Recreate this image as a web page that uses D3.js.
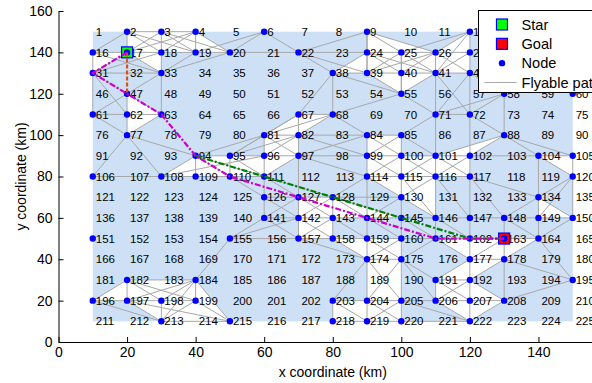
<!DOCTYPE html>
<html>
<head>
<meta charset="utf-8">
<script src="https://cdn.jsdelivr.net/npm/d3@7/dist/d3.min.js"></script>
<style>
  body { margin: 0; background: #fff; }
  svg { display: block; font-family: "Liberation Sans", Arial, sans-serif; }
</style>
</head>
<body>
<svg id="chart" width="592" height="383"></svg>
<script>
// grid of candidate nodes, numbered row by row from the top-left corner
const gridX = [10, 20, 30, 40, 50, 60, 70, 80, 90, 100, 110, 120, 130, 140, 150];
const gridY = [150, 140, 130, 120, 110, 100, 90, 80, 70, 60, 50, 40, 30, 20, 10];
const xTicks = [0, 20, 40, 60, 80, 100, 120, 140, 160];
const yTicks = [0, 20, 40, 60, 80, 100, 120, 140, 160];

// nodes that are drawn as blue dots
const nodeIds = [2, 3, 4, 6, 9, 12,
  16, 17, 18, 19, 20, 22, 24, 25, 26, 27,
  31, 33, 38, 39, 40, 41, 42,
  47, 55, 58, 60,
  61, 62, 63, 67, 68, 71, 72,
  77, 81, 82, 84, 85, 88,
  94, 95, 96, 97, 99, 100, 101, 102, 104, 105,
  106, 108, 109, 110, 111, 114, 115, 116, 117, 120,
  126, 127, 128, 130, 134,
  141, 142, 143, 144, 145, 146, 147, 148, 149, 150,
  151, 155, 157, 158, 159, 160, 161, 162, 163, 164,
  174, 175, 177, 178,
  182, 184, 191, 192, 195,
  196, 197, 198, 199, 203, 204, 205, 206, 207, 208,
  213, 215, 218, 219, 220, 222];

const startNode = 17;
const goalNode = 163;

// flyable paths between nodes
const edges = [
  [2, 3], [3, 4], [2, 16], [2, 17], [2, 18], [2, 19], [3, 17], [3, 18], [3, 19], [3, 20],
  [4, 17], [4, 18], [4, 19], [4, 20], [16, 17], [17, 18], [18, 19], [19, 20],
  [16, 31], [17, 31], [17, 33], [18, 33], [16, 33], [31, 33], [19, 33], [20, 33], [18, 31],
  [31, 47], [31, 61], [33, 47], [33, 63], [47, 61], [47, 62], [47, 63], [61, 62], [62, 63],
  [62, 77], [61, 77], [63, 77], [31, 62], [19, 6], [20, 6], [20, 22], [6, 22],
  [22, 9], [22, 38], [22, 39], [22, 24], [9, 24], [9, 25], [9, 26], [9, 39],
  [24, 25], [25, 26], [26, 27], [24, 39], [24, 40], [24, 41], [25, 39], [25, 40], [25, 41],
  [26, 39], [26, 40], [26, 41], [26, 42], [27, 41], [27, 42], [12, 25], [12, 26], [12, 27], [12, 41],
  [38, 39], [39, 40], [40, 41], [41, 42], [24, 38], [38, 55], [39, 55], [40, 55], [41, 55], [25, 55],
  [38, 67], [38, 68], [55, 68], [55, 71], [41, 71], [42, 72], [41, 72], [42, 71], [71, 72],
  [58, 72], [58, 71], [58, 88], [42, 58], [72, 88], [71, 85], [71, 101], [72, 102],
  [67, 68], [67, 81], [67, 82], [68, 82], [68, 81], [68, 84], [95, 67], [94, 81], [95, 81], [95, 82],
  [77, 106], [77, 108], [77, 94], [106, 108], [108, 109], [109, 110], [110, 111],
  [94, 95], [94, 109], [94, 108], [95, 110], [108, 96], [94, 110], [94, 111], [95, 96], [95, 111],
  [81, 82], [81, 96], [82, 97], [82, 84], [84, 85], [84, 99], [85, 100], [96, 97], [97, 99], [99, 100],
  [96, 111], [111, 126], [126, 141], [97, 127], [127, 142], [99, 114], [114, 144], [100, 115],
  [115, 130], [130, 145], [114, 115], [126, 127], [127, 128], [128, 130], [141, 142], [142, 143],
  [143, 144], [144, 145], [128, 143], [81, 97], [82, 96], [84, 97], [97, 111], [111, 127], [111, 128],
  [97, 114], [82, 99], [84, 100], [85, 99], [99, 115], [100, 114], [114, 130], [114, 128],
  [128, 144], [128, 145], [128, 142], [127, 143], [126, 142], [127, 141], [130, 144], [110, 126],
  [85, 101], [100, 101], [100, 116], [101, 115], [115, 116], [115, 146], [130, 146], [145, 146], [116, 130],
  [88, 101], [88, 102], [88, 104], [88, 105],
  [101, 102], [102, 104], [104, 105], [101, 116], [102, 117], [104, 134], [105, 120], [104, 120],
  [116, 117], [117, 134], [117, 148], [117, 147], [116, 147], [116, 146], [101, 117], [102, 116],
  [120, 134], [120, 150], [134, 149], [134, 148], [134, 150], [146, 147], [147, 148], [148, 149],
  [149, 150], [120, 149],
  [147, 162], [146, 161], [148, 163], [146, 162], [149, 164], [150, 164], [148, 164],
  [145, 160], [145, 161], [144, 159], [144, 160], [143, 158], [143, 159], [142, 157], [142, 158],
  [141, 157], [141, 155], [142, 155], [143, 157],
  [157, 158], [158, 159], [159, 160], [160, 161], [161, 162], [162, 163], [163, 164],
  [157, 174], [158, 174], [159, 174], [160, 174], [159, 175], [160, 175], [174, 175], [161, 175],
  [161, 177], [162, 177], [163, 177], [163, 178], [164, 178], [177, 178],
  [174, 203], [174, 204], [174, 205], [175, 204], [175, 205], [175, 191], [175, 206],
  [203, 204], [204, 205], [205, 206], [206, 207], [207, 208], [203, 218], [218, 219], [219, 220],
  [204, 219], [205, 220], [203, 219], [204, 220], [205, 219], [220, 222], [205, 222], [206, 222],
  [207, 222], [208, 222], [191, 206], [192, 207], [177, 191], [177, 192], [178, 192], [178, 208],
  [191, 192], [191, 207], [192, 206], [192, 208], [178, 195], [164, 195], [195, 208],
  [155, 157], [155, 184], [182, 184], [182, 196], [182, 197], [182, 198], [182, 199],
  [196, 197], [197, 198], [198, 199], [196, 213], [197, 213], [198, 213], [199, 213],
  [184, 198], [184, 199], [184, 213], [184, 215], [199, 215], [213, 215], [184, 197], [197, 215]
];

// triangles between connected nodes that show up white
const openCells = [
  [2, 3, 17], [3, 17, 18], [3, 4, 18], [4, 18, 19], [4, 19, 20], [16, 17, 31], [17, 18, 33],
  [47, 62, 63], [62, 63, 77],
  [9, 24, 25], [9, 25, 26], [24, 25, 39], [25, 39, 40], [25, 26, 40], [26, 40, 41], [26, 27, 41],
  [27, 41, 42], [12, 26, 27], [24, 38, 39], [39, 40, 55], [40, 41, 55],
  [67, 68, 82], [67, 81, 82],
  [94, 108, 109], [94, 95, 110], [94, 109, 110], [95, 96, 111], [95, 110, 111],
  [81, 82, 96], [82, 96, 97], [96, 97, 111], [84, 85, 99], [85, 99, 100], [99, 100, 114],
  [100, 114, 115], [114, 115, 130], [127, 128, 142], [128, 142, 143], [128, 143, 144], [128, 144, 145],
  [100, 101, 115], [101, 115, 116], [101, 102, 116], [102, 116, 117], [88, 101, 102],
  [104, 105, 120], [134, 149, 150], [115, 116, 130], [116, 130, 146],
  [142, 143, 157], [143, 157, 158], [158, 159, 174], [159, 160, 174], [160, 174, 175],
  [174, 175, 204], [175, 204, 205], [203, 204, 218], [204, 218, 219], [204, 205, 219], [205, 219, 220],
  [161, 162, 177], [162, 163, 177], [163, 177, 178], [177, 178, 192], [177, 191, 192],
  [191, 192, 206], [192, 206, 207], [192, 207, 208], [206, 207, 222], [207, 208, 222], [163, 164, 178],
  [182, 196, 197], [182, 197, 198], [182, 198, 184], [184, 198, 199], [197, 198, 213],
  [198, 199, 213], [184, 199, 215], [199, 213, 215]
];

// routes found from Star to Goal
const pathOrange = [17, 47];
const pathGreen = [94, 111, 128, 145, 162, 163];
const pathMagenta = [17, 31, 63, 94, 110, 127, 144, 161, 162, 163];

const legendItems = ["Star", "Goal", "Node", "Flyable path"];

const svg = d3.select("#chart");
const x = d3.scaleLinear().domain([0, 160]).range([58.5, 607]);
const y = d3.scaleLinear().domain([0, 160]).range([342, 11]);

const pos = id => [gridX[(id - 1) % 15], gridY[Math.floor((id - 1) / 15)]];
const px = id => x(pos(id)[0]);
const py = id => y(pos(id)[1]);

// area background
svg.append("rect")
  .attr("x", x(10)).attr("y", y(150))
  .attr("width", x(150) - x(10)).attr("height", y(10) - y(150))
  .attr("fill", "#cde0f6");

svg.append("g").selectAll("polygon")
  .data(openCells)
  .join("polygon")
  .attr("points", d => d.map(id => px(id) + "," + py(id)).join(" "))
  .attr("fill", "#fff");

svg.append("g").selectAll("line")
  .data(edges)
  .join("line")
  .attr("x1", d => px(d[0])).attr("y1", d => py(d[0]))
  .attr("x2", d => px(d[1])).attr("y2", d => py(d[1]))
  .attr("stroke", "#a8a8a8")
  .attr("stroke-width", 1);

// node numbers
svg.append("g").selectAll("text")
  .data(d3.range(1, 226))
  .join("text")
  .attr("x", d => px(d) + 3)
  .attr("y", d => py(d))
  .attr("dy", "0.36em")
  .style("font-size", "11.5px")
  .style("fill", "#000")
  .text(d => d);

// axes
const xAxis = svg.append("g")
  .attr("transform", `translate(0,${y(0)})`)
  .call(d3.axisBottom(x).tickValues(xTicks).tickSizeInner(-5).tickSizeOuter(0).tickPadding(5));
const yAxis = svg.append("g")
  .attr("transform", `translate(${x(0)},0)`)
  .call(d3.axisLeft(y).tickValues(yTicks).tickSizeInner(-5).tickSizeOuter(0).tickPadding(6));
[xAxis, yAxis].forEach(g => {
  g.selectAll("text").style("font-size", "14px").style("font-family", "Liberation Sans, Arial, sans-serif").attr("fill", "#000");
  g.selectAll("line,path").attr("stroke", "#000");
});

svg.append("text")
  .attr("x", x(80)).attr("y", 377)
  .attr("text-anchor", "middle")
  .style("font-size", "14px")
  .text("x coordinate (km)");
svg.append("text")
  .attr("transform", `translate(26,${y(80)}) rotate(-90)`)
  .attr("text-anchor", "middle")
  .style("font-size", "14px")
  .text("y coordinate (km)");

// nodes
svg.append("g").selectAll("circle")
  .data(nodeIds)
  .join("circle")
  .attr("cx", d => px(d)).attr("cy", d => py(d))
  .attr("r", 3.2)
  .attr("fill", "#0000ff");

// start and goal markers
const sq = 11;
[[startNode, "#00ff00"], [goalNode, "#ff0000"]].forEach(([id, c]) => {
  svg.append("rect")
    .attr("x", px(id) - sq / 2).attr("y", py(id) - sq / 2)
    .attr("width", sq).attr("height", sq)
    .attr("fill", c).attr("stroke", "#0000ff").attr("stroke-width", 1.2);
  svg.append("circle")
    .attr("cx", px(id)).attr("cy", py(id)).attr("r", 3.2).attr("fill", "#0000ff");
});

// routes
const route = d3.line().x(id => px(id)).y(id => py(id));
svg.append("path").datum(pathOrange).attr("d", route)
  .attr("fill", "none").attr("stroke", "#d95319").attr("stroke-width", 2.2)
  .attr("stroke-dasharray", "4,2");
svg.append("path").datum(pathGreen).attr("d", route)
  .attr("fill", "none").attr("stroke", "#008000").attr("stroke-width", 2.2)
  .attr("stroke-dasharray", "6,2,2,2");
svg.append("path").datum(pathMagenta).attr("d", route)
  .attr("fill", "none").attr("stroke", "#cc00cc").attr("stroke-width", 2.2)
  .attr("stroke-dasharray", "6,2,2,2");

// legend
const lg = svg.append("g").attr("transform", "translate(478.5,10.5)");
lg.append("rect").attr("width", 140).attr("height", 82)
  .attr("fill", "#fff").attr("stroke", "#000").attr("stroke-width", 1);
const rowY = d3.scalePoint().domain(legendItems).range([14, 72]);
lg.append("rect").attr("x", 18).attr("y", rowY("Star") - 5.5).attr("width", 11).attr("height", 11)
  .attr("fill", "#00ff00").attr("stroke", "#0000ff").attr("stroke-width", 1.2);
lg.append("rect").attr("x", 18).attr("y", rowY("Goal") - 5.5).attr("width", 11).attr("height", 11)
  .attr("fill", "#ff0000").attr("stroke", "#0000ff").attr("stroke-width", 1.2);
lg.append("circle").attr("cx", 23.5).attr("cy", rowY("Node")).attr("r", 3.2).attr("fill", "#0000ff");
lg.append("line").attr("x1", 6).attr("x2", 38).attr("y1", rowY("Flyable path")).attr("y2", rowY("Flyable path"))
  .attr("stroke", "#a8a8a8").attr("stroke-width", 1);
lg.selectAll("text.item")
  .data(legendItems)
  .join("text")
  .attr("class", "item")
  .attr("x", 43).attr("y", d => rowY(d))
  .attr("dy", "0.36em")
  .style("font-size", "14.6px")
  .text(d => d);
</script>
</body>
</html>
